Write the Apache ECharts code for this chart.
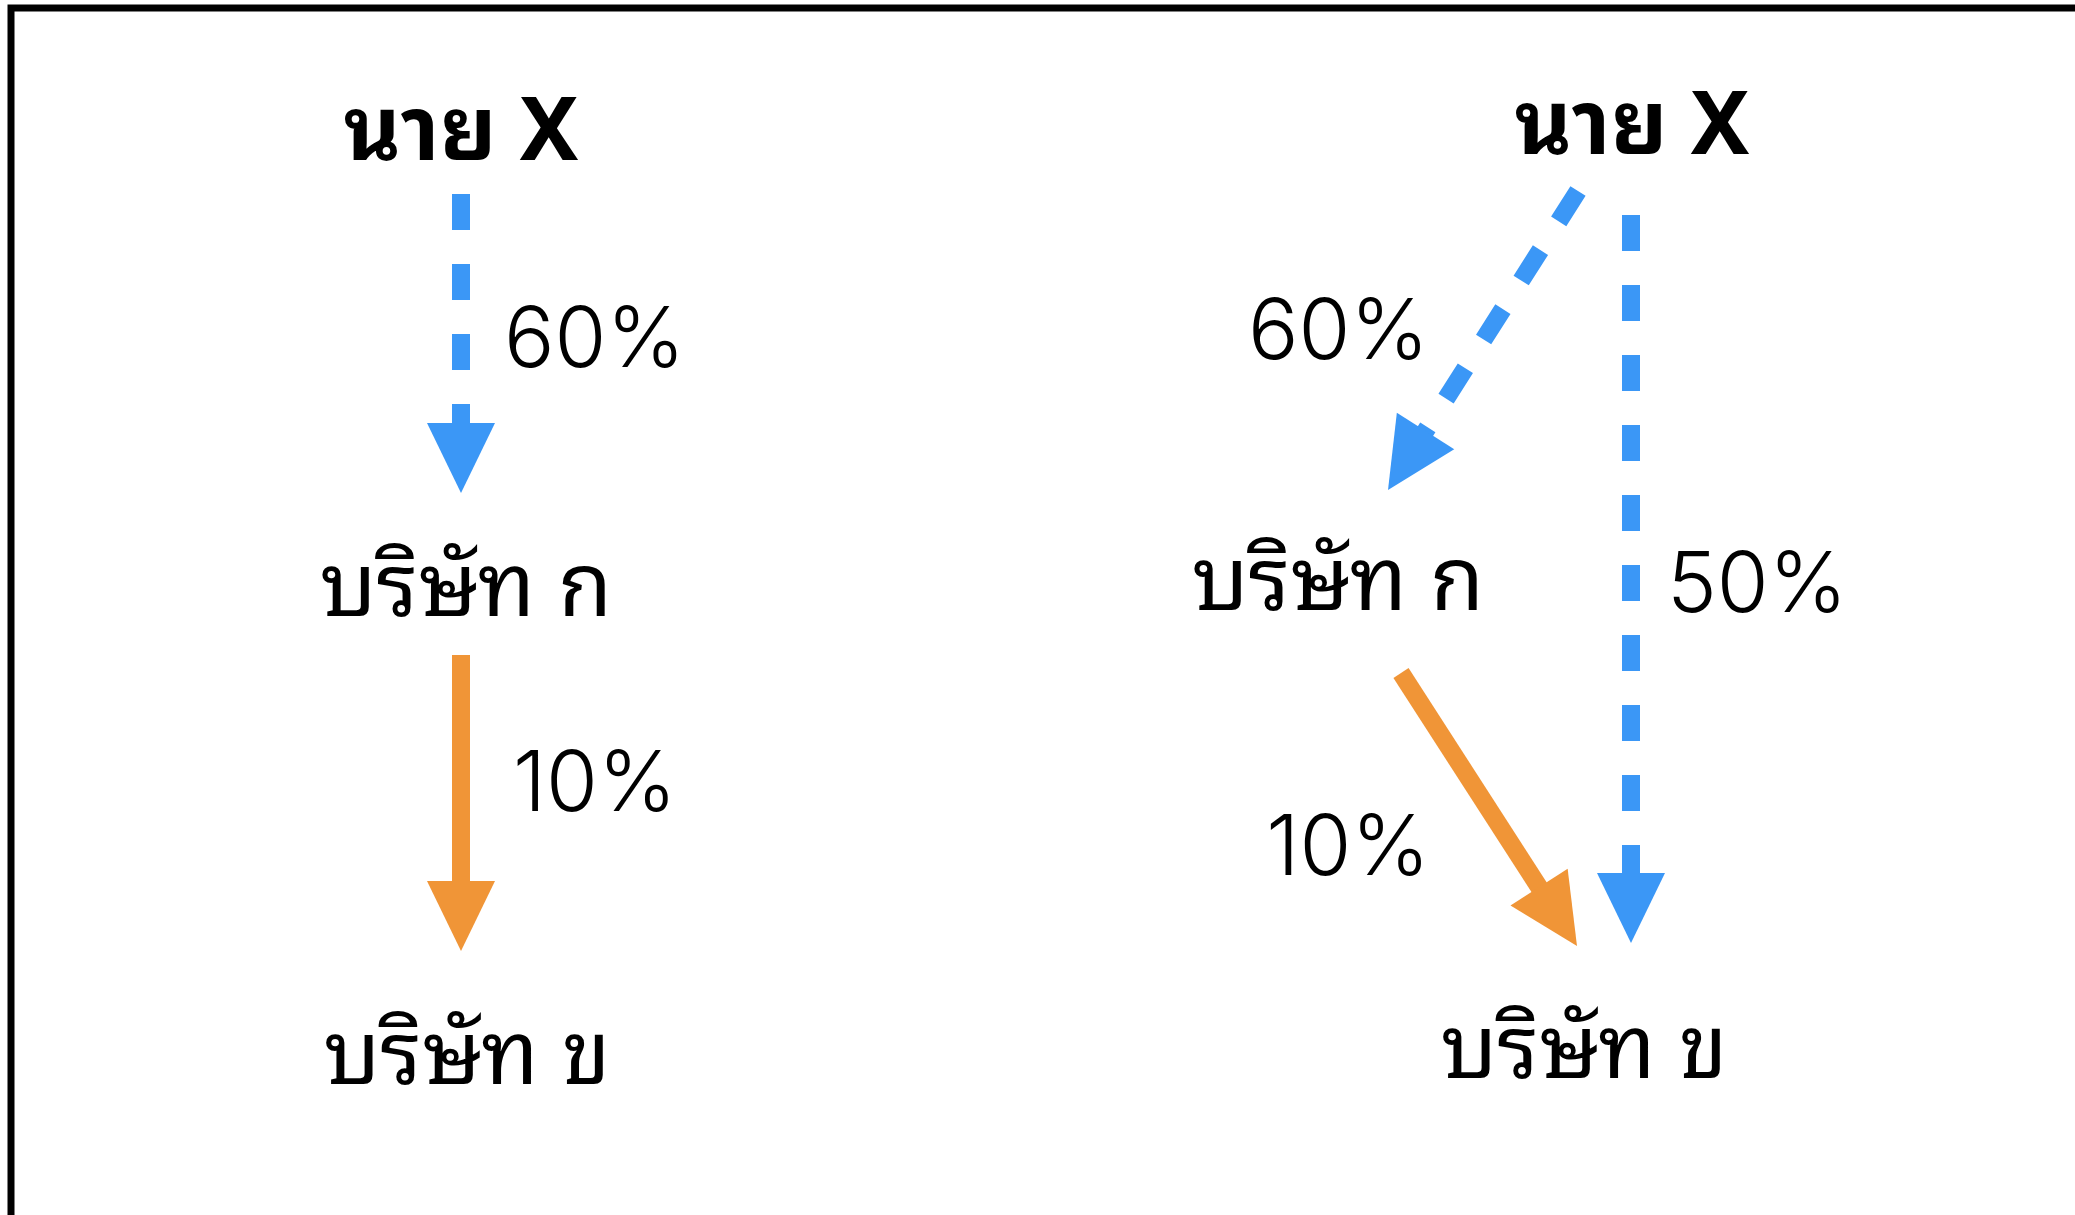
<!DOCTYPE html>
<html><head><meta charset="utf-8">
<script src="https://cdn.jsdelivr.net/npm/echarts@6/dist/echarts.min.js"></script>
<style>html,body{margin:0;padding:0;background:#fff;overflow:hidden}#c{width:2075px;height:1215px}</style>
</head><body><div id="c"></div>
<script>
// ---------- data ----------
const entities = ['นาย X', 'บริษัท ก', 'บริษัท ข'];
const panelNames = ['chain', 'chain+direct'];
const holdingPanel = [0, 0, 1, 1, 1];
const holdingFrom = ['นาย X', 'บริษัท ก', 'นาย X', 'บริษัท ก', 'นาย X'];
const holdingTo   = ['บริษัท ก', 'บริษัท ข', 'บริษัท ก', 'บริษัท ข', 'บริษัท ข'];
const holdingPct  = [60, 10, 60, 10, 50];

// ---------- layout (diagram units) ----------
const TEXT_DY = 18;
const nodeAnchor = [ // per panel, per entity: [x, baseline y]
  [[461, 161], [466, 617], [467, 1085]],
  [[1632, 155], [1338, 611], [1584, 1079]]
];
const edgeStart = [[461, 194], [461, 655], [1578, 191], [1401, 673], [1631, 215]];
const edgeTip   = [[461, 493], [461, 951], [1388, 490], [1577, 946], [1631, 943]];
const pctAnchor = [[504, 366, 'left'], [513, 810, 'left'], [1429, 358, 'right'], [1430, 874, 'right'], [1667, 611, 'left']];

const BLUE = '#3B97F6', ORANGE = '#F09537';
const THAI = "'Noto Sans Thai Looped','Noto Sans Thai','Noto Sans','DejaVu Sans',sans-serif";
const PCTFONT = "Inter,Roboto,'Liberation Sans',sans-serif";

const chart = echarts.init(document.getElementById('c'), null, {renderer: 'canvas'});

const edgeData = holdingPct.map((v, i) => [edgeStart[i][0], edgeStart[i][1], edgeTip[i][0], edgeTip[i][1], v, i]);
const nodeData = [];
for (let p = 0; p < panelNames.length; p++) {
  for (let e = 0; e < entities.length; e++) nodeData.push([nodeAnchor[p][e][0], nodeAnchor[p][e][1] + TEXT_DY, p, e]);
}
const pctData = holdingPct.map((v, i) => [pctAnchor[i][0], pctAnchor[i][1] + TEXT_DY, v, i]);

chart.setOption({
  backgroundColor: '#fff',
  animation: false,
  graphic: [{type: 'rect', shape: {x: 11, y: 8, width: 2300, height: 1400}, style: {fill: 'none', stroke: '#000', lineWidth: 7}, z: 100}],
  grid: {left: 0, right: 0, top: 0, bottom: 0},
  xAxis: {type: 'value', min: 0, max: 2075, show: false},
  yAxis: {type: 'value', min: 0, max: 1215, inverse: true, show: false},
  series: [
    {
      type: 'custom', coordinateSystem: 'cartesian2d', data: edgeData,
      encode: {x: [0, 2], y: [1, 3]},
      renderItem: function (params, api) {
        const i = api.value(5);
        const a = api.coord([api.value(0), api.value(1)]);
        const b = api.coord([api.value(2), api.value(3)]);
        const dx = b[0] - a[0], dy = b[1] - a[1];
        const L = Math.hypot(dx, dy), ux = dx / L, uy = dy / L, px = -uy, py = ux;
        const H = 70, W = 68;
        const base = [b[0] - ux * H, b[1] - uy * H];
        const personal = holdingFrom[i] === entities[0];
        const color = personal ? BLUE : ORANGE;
        return {
          type: 'group', children: [
            {type: 'line', shape: {x1: a[0], y1: a[1], x2: base[0] + ux * 2, y2: base[1] + uy * 2},
              style: {stroke: color, lineWidth: 18, lineDash: personal ? [36, 34] : null, lineCap: 'butt'}},
            {type: 'polygon', shape: {points: [b, [base[0] + px * W / 2, base[1] + py * W / 2], [base[0] - px * W / 2, base[1] - py * W / 2]]},
              style: {fill: color}}
          ]
        };
      }
    },
    {
      type: 'custom', coordinateSystem: 'cartesian2d', data: nodeData,
      encode: {x: 0, y: 1},
      renderItem: function (params, api) {
        const e = api.value(3);
        const pt = api.coord([api.value(0), api.value(1)]);
        return {type: 'text', x: pt[0], y: pt[1],
          style: {text: entities[e], fill: '#000', align: 'center', verticalAlign: 'bottom',
            font: (e === 0 ? 'bold ' : '') + '88px ' + THAI}};
      }
    },
    {
      type: 'custom', coordinateSystem: 'cartesian2d', data: pctData,
      encode: {x: 0, y: 1},
      renderItem: function (params, api) {
        const i = api.value(3);
        const pt = api.coord([api.value(0), api.value(1)]);
        return {type: 'text', x: pt[0], y: pt[1],
          style: {text: api.value(2) + '%', fill: '#000', align: pctAnchor[i][2], verticalAlign: 'bottom',
            font: '300 84px ' + PCTFONT}};
      }
    }
  ]
});
</script></body></html>
